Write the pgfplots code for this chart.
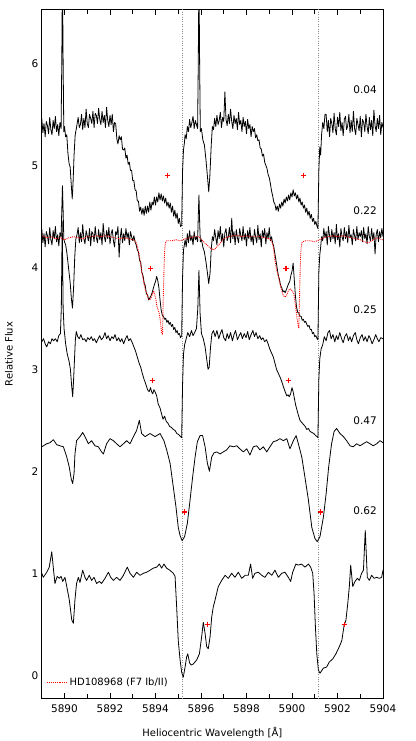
\documentclass[border=0pt]{standalone}
\usepackage{fontspec}
\setmainfont{DejaVu Sans}
\usepackage{pgfplots}
\pgfplotsset{compat=1.18}
\begin{document}
\begin{tikzpicture}
\begin{axis}[
  scale only axis, width=341.25pt, height=689.4pt,
  xmin=5889, xmax=5904, ymin=-0.23, ymax=6.53,
  xtick={5890,5892,...,5904}, ytick={0,1,...,6},
  minor x tick num=9,
  extra x ticks={5891,5893,5895,5897,5899,5901,5903},
  extra x tick labels={},
  extra x tick style={major tick length=4.5pt},
  major tick length=6pt, minor tick length=3pt,
  ytick style={draw=none},
  axis line style={line width=0.9pt},
  tick style={line width=0.6pt, black},
  /pgf/number format/assume math mode=true,
  x tick label style={/pgf/number format/1000 sep={}, font=\fontsize{10.5}{12}\selectfont, yshift=-2pt},
  y tick label style={font=\fontsize{10.5}{12}\selectfont},
  xlabel={Heliocentric Wavelength [Å]},
  ylabel={Relative Flux},
  label style={font=\fontsize{10}{12}\selectfont},
  x label style={at={(axis description cs:0.5,-0.0498)}, anchor=center},
  y label style={at={(axis description cs:-0.096,0.5)}, anchor=center},
  legend style={at={(axis description cs:0.005,0.024)}, anchor=west, draw=none, fill=none,
    font=\fontsize{10}{12}\selectfont},
  legend cell align=left,
  legend image code/.code={\draw[#1] (0pt,0pt) -- (20pt,0pt);},
  every axis plot/.append style={line join=round},
]
% vertical reference lines
\addplot[black!45, dotted, line width=0.4pt, forget plot] coordinates {(5895.17,-0.3) (5895.17,6.6)};
\addplot[black!45, dotted, line width=0.4pt, forget plot] coordinates {(5901.16,-0.3) (5901.16,6.6)};

% phase 0.04
\addplot[black, line width=0.8pt, forget plot] coordinates {
(5889.00,5.46) (5889.05,5.32) (5889.10,5.41) (5889.15,5.28) (5889.20,5.43) (5889.25,5.39) (5889.30,5.31) (5889.35,5.47) (5889.40,5.35) (5889.45,5.30)
(5889.50,5.44) (5889.55,5.36) (5889.60,5.48) (5889.65,5.33) (5889.70,5.40) (5889.75,5.29) (5889.80,5.42) (5889.85,5.36) (5889.88,6.00) (5889.91,6.90)
(5889.94,6.00) (5889.97,5.33) (5890.00,5.38) (5890.05,5.28) (5890.10,5.30) (5890.15,5.12) (5890.20,5.02) (5890.25,4.98) (5890.30,4.80) (5890.34,4.67)
(5890.38,4.85) (5890.42,5.10) (5890.47,5.30) (5890.52,5.36) (5890.60,5.47) (5890.65,5.37) (5890.70,5.40) (5890.75,5.50) (5890.80,5.35) (5890.85,5.46)
(5890.90,5.37) (5890.95,5.55) (5891.00,5.41) (5891.05,5.37) (5891.10,5.50) (5891.15,5.46) (5891.20,5.41) (5891.25,5.53) (5891.30,5.37) (5891.35,5.51)
(5891.40,5.49) (5891.45,5.41) (5891.50,5.56) (5891.55,5.45) (5891.60,5.40) (5891.65,5.53) (5891.70,5.42) (5891.75,5.49) (5891.80,5.37) (5891.85,5.57)
(5891.90,5.44) (5891.95,5.38) (5892.00,5.49) (5892.05,5.40) (5892.10,5.50) (5892.15,5.33) (5892.20,5.42) (5892.25,5.41) (5892.30,5.26) (5892.35,5.21)
(5892.40,5.29) (5892.45,5.25) (5892.50,5.28) (5892.55,5.16) (5892.60,5.15) (5892.65,5.17) (5892.70,5.07) (5892.75,5.10) (5892.80,5.01) (5892.85,5.03)
(5892.90,4.95) (5892.95,4.95) (5893.00,4.85) (5893.05,4.85) (5893.10,4.76) (5893.15,4.75) (5893.20,4.65) (5893.25,4.65) (5893.30,4.55) (5893.35,4.59)
(5893.40,4.52) (5893.45,4.58) (5893.50,4.51) (5893.55,4.60) (5893.60,4.53) (5893.65,4.60) (5893.70,4.54) (5893.75,4.64) (5893.80,4.56) (5893.85,4.64)
(5893.90,4.61) (5893.95,4.69) (5894.00,4.61) (5894.05,4.69) (5894.10,4.64) (5894.15,4.73) (5894.20,4.66) (5894.25,4.72) (5894.30,4.65) (5894.35,4.70)
(5894.40,4.63) (5894.45,4.68) (5894.50,4.60) (5894.55,4.64) (5894.60,4.58) (5894.65,4.63) (5894.70,4.54) (5894.75,4.60) (5894.80,4.50) (5894.85,4.56)
(5894.90,4.48) (5894.95,4.53) (5895.00,4.43) (5895.05,4.48) (5895.10,4.40) (5895.15,4.41) (5895.19,4.95) (5895.23,5.15) (5895.27,5.22) (5895.30,5.30)
(5895.35,5.26) (5895.40,5.38) (5895.45,5.33) (5895.50,5.45) (5895.55,5.37) (5895.60,5.42) (5895.65,5.48) (5895.70,5.36) (5895.75,5.44) (5895.80,5.40)
(5895.85,5.36) (5895.88,6.00) (5895.91,6.90) (5895.94,6.00) (5895.97,5.33) (5896.02,5.36) (5896.08,5.25) (5896.15,5.20) (5896.22,5.05) (5896.28,4.90)
(5896.34,4.74) (5896.39,4.90) (5896.45,5.20) (5896.50,5.38) (5896.55,5.35) (5896.60,5.46) (5896.65,5.38) (5896.70,5.49) (5896.75,5.40) (5896.80,5.44)
(5896.85,5.52) (5896.90,5.37) (5896.95,5.47) (5897.00,5.43) (5897.05,5.72) (5897.10,5.45) (5897.15,5.39) (5897.20,5.50) (5897.25,5.41) (5897.30,5.55)
(5897.35,5.43) (5897.40,5.36) (5897.45,5.49) (5897.50,5.41) (5897.55,5.46) (5897.60,5.35) (5897.65,5.52) (5897.70,5.40) (5897.75,5.44) (5897.80,5.33)
(5897.85,5.47) (5897.90,5.38) (5897.95,5.43) (5898.00,5.31) (5898.05,5.45) (5898.10,5.36) (5898.15,5.40) (5898.20,5.28) (5898.25,5.38) (5898.30,5.33)
(5898.35,5.36) (5898.40,5.27) (5898.45,5.30) (5898.50,5.24) (5898.55,5.25) (5898.60,5.17) (5898.65,5.16) (5898.70,5.09) (5898.75,5.11) (5898.80,5.03)
(5898.85,5.00) (5898.90,4.97) (5898.95,4.91) (5899.00,4.88) (5899.05,4.82) (5899.10,4.75) (5899.15,4.70) (5899.20,4.64) (5899.25,4.62) (5899.30,4.56)
(5899.35,4.60) (5899.40,4.55) (5899.45,4.62) (5899.50,4.58) (5899.55,4.64) (5899.60,4.60) (5899.65,4.67) (5899.70,4.63) (5899.75,4.69) (5899.80,4.65)
(5899.85,4.71) (5899.90,4.66) (5899.95,4.73) (5900.00,4.69) (5900.05,4.76) (5900.10,4.70) (5900.15,4.73) (5900.20,4.67) (5900.25,4.71) (5900.30,4.64)
(5900.35,4.68) (5900.40,4.61) (5900.45,4.64) (5900.50,4.58) (5900.55,4.61) (5900.60,4.54) (5900.65,4.58) (5900.70,4.51) (5900.75,4.55) (5900.80,4.48)
(5900.85,4.52) (5900.90,4.45) (5900.95,4.48) (5901.00,4.42) (5901.05,4.45) (5901.10,4.40) (5901.14,4.38) (5901.18,4.95) (5901.22,5.18) (5901.26,5.10)
(5901.30,5.30) (5901.35,5.42) (5901.40,5.36) (5901.45,5.50) (5901.50,5.50) (5901.55,5.33) (5901.60,5.44) (5901.65,5.28) (5901.70,5.46) (5901.75,5.41)
(5901.80,5.32) (5901.85,5.51) (5901.90,5.36) (5901.95,5.30) (5902.00,5.47) (5902.05,5.38) (5902.10,5.52) (5902.15,5.34) (5902.20,5.42) (5902.25,5.29)
(5902.30,5.45) (5902.35,5.48) (5902.40,5.35) (5902.45,5.39) (5902.50,5.50) (5902.55,5.32) (5902.60,5.44) (5902.65,5.33) (5902.70,5.53) (5902.75,5.36)
(5902.80,5.30) (5902.85,5.46) (5902.90,5.40) (5902.95,5.34) (5903.00,5.48) (5903.05,5.28) (5903.10,5.45) (5903.15,5.42) (5903.20,5.33) (5903.25,5.50)
(5903.30,5.38) (5903.35,5.31) (5903.40,5.47) (5903.45,5.35) (5903.50,5.44) (5903.55,5.29) (5903.60,5.54) (5903.65,5.39) (5903.70,5.33) (5903.75,5.46)
(5903.80,5.36) (5903.85,5.49) (5903.90,5.30) (5903.95,5.42) (5904.00,5.37)
};

% phase 0.22
\addplot[black, line width=0.8pt, forget plot] coordinates {
(5889.00,4.38) (5889.05,4.24) (5889.10,4.33) (5889.15,4.20) (5889.20,4.35) (5889.25,4.31) (5889.30,4.23) (5889.35,4.39) (5889.40,4.27) (5889.45,4.22)
(5889.50,4.36) (5889.55,4.28) (5889.60,4.40) (5889.65,4.25) (5889.70,4.32) (5889.75,4.21) (5889.80,4.34) (5889.85,4.30) (5889.88,4.55) (5889.91,4.80)
(5889.94,4.55) (5889.97,4.28) (5890.00,4.25) (5890.05,4.22) (5890.10,4.15) (5890.15,4.05) (5890.20,3.95) (5890.25,3.85) (5890.30,3.70) (5890.35,3.60)
(5890.40,3.80) (5890.45,4.10) (5890.50,4.28) (5890.55,4.32) (5890.60,4.39) (5890.65,4.24) (5890.70,4.34) (5890.75,4.25) (5890.80,4.42) (5890.85,4.28)
(5890.90,4.23) (5890.95,4.36) (5891.00,4.31) (5891.05,4.26) (5891.10,4.38) (5891.15,4.21) (5891.20,4.35) (5891.25,4.33) (5891.30,4.25) (5891.35,4.40)
(5891.40,4.29) (5891.45,4.24) (5891.50,4.37) (5891.55,4.27) (5891.60,4.34) (5891.65,4.22) (5891.70,4.43) (5891.75,4.30) (5891.80,4.25) (5891.85,4.36)
(5891.90,4.28) (5891.95,4.39) (5892.00,4.23) (5892.05,4.33) (5892.10,4.37) (5892.15,4.26) (5892.20,4.20) (5892.25,4.35) (5892.30,4.32) (5892.35,4.40)
(5892.40,4.10) (5892.45,4.29) (5892.50,4.38) (5892.55,4.24) (5892.60,4.33) (5892.65,4.26) (5892.70,4.38) (5892.75,4.29) (5892.80,4.34) (5892.85,4.22)
(5892.90,4.35) (5892.95,4.30) (5893.00,4.26) (5893.05,4.31) (5893.10,4.25) (5893.15,4.22) (5893.20,4.17) (5893.25,4.15) (5893.30,4.07) (5893.35,4.05)
(5893.40,3.95) (5893.45,3.92) (5893.50,3.85) (5893.55,3.82) (5893.60,3.74) (5893.65,3.73) (5893.70,3.68) (5893.75,3.70) (5893.80,3.72) (5893.85,3.75)
(5893.90,3.79) (5893.95,3.83) (5894.00,3.86) (5894.05,3.91) (5894.10,3.87) (5894.15,3.80) (5894.20,3.68) (5894.25,3.58) (5894.30,3.53) (5894.35,3.52)
(5894.40,3.49) (5894.45,3.50) (5894.50,3.46) (5894.55,3.48) (5894.60,3.44) (5894.65,3.46) (5894.70,3.42) (5894.75,3.44) (5894.80,3.39) (5894.85,3.41)
(5894.90,3.36) (5894.95,3.38) (5895.00,3.34) (5895.05,3.35) (5895.10,3.31) (5895.15,3.33) (5895.19,3.90) (5895.23,4.17) (5895.27,4.22) (5895.30,4.27)
(5895.35,4.20) (5895.40,4.33) (5895.45,4.24) (5895.50,4.36) (5895.55,4.26) (5895.60,4.31) (5895.65,4.22) (5895.70,4.35) (5895.75,4.27) (5895.80,4.30)
(5895.85,4.25) (5895.88,4.50) (5895.91,4.71) (5895.94,4.45) (5895.97,4.25) (5896.02,4.27) (5896.08,4.20) (5896.15,4.15) (5896.22,4.05) (5896.28,3.95)
(5896.34,3.84) (5896.40,3.95) (5896.45,4.18) (5896.50,4.30) (5896.55,4.26) (5896.60,4.37) (5896.65,4.29) (5896.70,4.22) (5896.75,4.36) (5896.80,4.28)
(5896.85,4.40) (5896.90,4.25) (5896.95,4.33) (5897.00,4.20) (5897.05,4.34) (5897.10,4.38) (5897.15,4.26) (5897.20,4.30) (5897.25,4.39) (5897.30,4.24)
(5897.35,4.48) (5897.40,4.28) (5897.45,4.35) (5897.50,4.22) (5897.55,4.37) (5897.60,4.29) (5897.65,4.24) (5897.70,4.38) (5897.75,4.31) (5897.80,4.26)
(5897.85,4.40) (5897.90,4.27) (5897.95,4.33) (5898.00,4.21) (5898.05,4.36) (5898.10,4.28) (5898.15,4.39) (5898.20,4.25) (5898.25,4.31) (5898.30,4.22)
(5898.35,4.37) (5898.40,4.30) (5898.45,4.24) (5898.50,4.41) (5898.55,4.27) (5898.60,4.33) (5898.65,4.20) (5898.70,4.36) (5898.75,4.29) (5898.80,4.38)
(5898.85,4.23) (5898.90,4.34) (5898.95,4.28) (5899.00,4.39) (5899.05,4.26) (5899.10,4.30) (5899.15,4.24) (5899.20,4.20) (5899.25,4.13) (5899.30,4.06)
(5899.35,3.99) (5899.40,3.92) (5899.45,3.88) (5899.50,3.82) (5899.55,3.80) (5899.60,3.76) (5899.65,3.77) (5899.70,3.75) (5899.75,3.78) (5899.80,3.81)
(5899.85,3.84) (5899.90,3.86) (5899.95,3.92) (5900.00,3.96) (5900.05,4.04) (5900.10,3.88) (5900.15,3.72) (5900.20,3.61) (5900.25,3.56) (5900.30,3.55)
(5900.35,3.52) (5900.40,3.52) (5900.45,3.48) (5900.50,3.49) (5900.55,3.46) (5900.60,3.47) (5900.65,3.44) (5900.70,3.42) (5900.75,3.43) (5900.80,3.39)
(5900.85,3.39) (5900.90,3.35) (5900.95,3.36) (5901.00,3.32) (5901.05,3.33) (5901.10,3.30) (5901.14,3.29) (5901.18,3.95) (5901.22,4.12) (5901.26,4.20)
(5901.30,4.30) (5901.35,4.26) (5901.40,4.38) (5901.45,4.29) (5901.50,4.35) (5901.55,4.22) (5901.60,4.40) (5901.65,4.31) (5901.70,4.25) (5901.75,4.37)
(5901.80,4.28) (5901.85,4.34) (5901.90,4.23) (5901.95,4.42) (5902.00,4.27) (5902.05,4.33) (5902.10,4.20) (5902.15,4.38) (5902.20,4.30) (5902.25,4.26)
(5902.30,4.39) (5902.35,4.28) (5902.40,4.35) (5902.45,4.24) (5902.50,4.41) (5902.55,4.29) (5902.60,4.32) (5902.65,4.22) (5902.70,4.37) (5902.75,4.31)
(5902.80,4.26) (5902.85,4.40) (5902.90,4.27) (5902.95,4.34) (5903.00,4.30) (5903.05,4.36) (5903.10,4.25) (5903.15,4.39) (5903.20,4.28) (5903.25,4.33)
(5903.30,4.23) (5903.35,4.40) (5903.40,4.30) (5903.45,4.26) (5903.50,4.38) (5903.55,4.27) (5903.60,4.34) (5903.65,4.13) (5903.70,4.32) (5903.75,4.37)
(5903.80,4.25) (5903.85,4.35) (5903.90,4.29) (5903.95,4.38) (5904.00,4.30)
};

% phase 0.25
\addplot[black, line width=0.8pt, forget plot] coordinates {
(5889.00,3.27) (5889.08,3.30) (5889.15,3.25) (5889.22,3.22) (5889.30,3.27) (5889.38,3.25) (5889.45,3.30) (5889.52,3.28) (5889.60,3.30) (5889.68,3.27)
(5889.75,3.33) (5889.82,3.35) (5889.86,3.60) (5889.90,4.45) (5889.94,3.60) (5889.98,3.40) (5890.05,3.25) (5890.12,3.15) (5890.20,3.08) (5890.26,3.00)
(5890.31,2.85) (5890.36,2.73) (5890.40,2.90) (5890.44,3.10) (5890.48,3.30) (5890.52,3.37) (5890.58,3.32) (5890.65,3.30) (5890.72,3.34) (5890.80,3.29)
(5890.88,3.30) (5890.95,3.27) (5891.02,3.31) (5891.10,3.29) (5891.18,3.32) (5891.25,3.28) (5891.32,3.30) (5891.40,3.26) (5891.48,3.30) (5891.55,3.33)
(5891.62,3.29) (5891.70,3.31) (5891.78,3.36) (5891.85,3.30) (5891.92,3.33) (5892.00,3.28) (5892.08,3.32) (5892.15,3.30) (5892.22,3.34) (5892.30,3.28)
(5892.38,3.31) (5892.45,3.27) (5892.52,3.30) (5892.60,3.25) (5892.68,3.30) (5892.75,3.33) (5892.82,3.28) (5892.90,3.30) (5892.98,3.26) (5893.05,3.22)
(5893.12,3.18) (5893.20,3.12) (5893.28,3.06) (5893.35,3.02) (5893.42,2.96) (5893.50,2.90) (5893.58,2.85) (5893.65,2.80) (5893.72,2.78) (5893.78,2.82)
(5893.83,2.78) (5893.88,2.76) (5893.93,2.80) (5893.98,2.78) (5894.05,2.74) (5894.12,2.66) (5894.20,2.62) (5894.27,2.56) (5894.33,2.51) (5894.40,2.54)
(5894.47,2.49) (5894.55,2.47) (5894.62,2.44) (5894.70,2.43) (5894.78,2.41) (5894.86,2.40) (5894.94,2.37) (5895.02,2.36) (5895.10,2.34) (5895.15,2.33)
(5895.19,2.85) (5895.23,3.15) (5895.28,3.24) (5895.35,3.30) (5895.42,3.36) (5895.50,3.32) (5895.58,3.38) (5895.65,3.33) (5895.72,3.36) (5895.80,3.40)
(5895.86,3.60) (5895.91,3.97) (5895.96,3.55) (5896.02,3.35) (5896.10,3.30) (5896.18,3.22) (5896.25,3.10) (5896.31,3.00) (5896.36,3.02) (5896.42,3.22)
(5896.48,3.35) (5896.55,3.38) (5896.62,3.32) (5896.70,3.38) (5896.78,3.30) (5896.85,3.35) (5896.92,3.39) (5897.00,3.31) (5897.08,3.28) (5897.15,3.35)
(5897.22,3.30) (5897.30,3.36) (5897.38,3.28) (5897.45,3.34) (5897.52,3.38) (5897.60,3.29) (5897.68,3.33) (5897.75,3.36) (5897.82,3.30) (5897.90,3.35)
(5897.98,3.31) (5898.05,3.37) (5898.12,3.29) (5898.20,3.34) (5898.28,3.38) (5898.35,3.32) (5898.42,3.36) (5898.50,3.30) (5898.58,3.33) (5898.65,3.29)
(5898.72,3.31) (5898.80,3.27) (5898.88,3.29) (5898.95,3.25) (5899.02,3.20) (5899.10,3.16) (5899.18,3.12) (5899.25,3.06) (5899.32,3.00) (5899.40,2.96)
(5899.48,2.92) (5899.55,2.88) (5899.62,2.83) (5899.70,2.78) (5899.77,2.74) (5899.83,2.75) (5899.88,2.73) (5899.94,2.76) (5900.00,2.82) (5900.05,2.78)
(5900.10,2.72) (5900.16,2.65) (5900.22,2.60) (5900.28,2.55) (5900.35,2.50) (5900.42,2.48) (5900.50,2.46) (5900.58,2.44) (5900.65,2.41) (5900.72,2.42)
(5900.80,2.39) (5900.88,2.38) (5900.96,2.37) (5901.04,2.35) (5901.10,2.34) (5901.14,2.33) (5901.18,2.90) (5901.22,3.10) (5901.28,3.20) (5901.35,3.24)
(5901.42,3.32) (5901.50,3.28) (5901.58,3.36) (5901.65,3.38) (5901.72,3.30) (5901.80,3.34) (5901.88,3.27) (5901.95,3.33) (5902.02,3.29) (5902.10,3.36)
(5902.18,3.30) (5902.25,3.26) (5902.32,3.32) (5902.40,3.35) (5902.48,3.28) (5902.55,3.32) (5902.62,3.27) (5902.70,3.33) (5902.78,3.36) (5902.85,3.29)
(5902.92,3.25) (5903.00,3.31) (5903.08,3.34) (5903.15,3.28) (5903.22,3.32) (5903.30,3.27) (5903.38,3.33) (5903.45,3.30) (5903.52,3.25) (5903.60,3.29)
(5903.68,3.34) (5903.75,3.30) (5903.82,3.27) (5903.90,3.31) (5904.00,3.30)
};

% phase 0.47
\addplot[black, line width=0.8pt, forget plot] coordinates {
(5889.00,2.24) (5889.22,2.27) (5889.36,2.28) (5889.51,2.31) (5889.66,2.26) (5889.80,2.25) (5889.95,2.24) (5890.10,2.14) (5890.21,2.04) (5890.30,1.92)
(5890.36,1.88) (5890.42,1.98) (5890.46,2.17) (5890.53,2.30) (5890.68,2.34) (5890.80,2.38) (5890.90,2.34) (5891.05,2.27) (5891.19,2.30) (5891.34,2.25)
(5891.49,2.24) (5891.63,2.19) (5891.71,2.17) (5891.85,2.27) (5892.00,2.32) (5892.15,2.30) (5892.29,2.27) (5892.44,2.24) (5892.59,2.27) (5892.73,2.30)
(5892.88,2.27) (5893.03,2.34) (5893.17,2.40) (5893.29,2.50) (5893.39,2.37) (5893.54,2.34) (5893.76,2.37) (5893.98,2.34) (5894.20,2.37) (5894.37,2.30)
(5894.49,2.21) (5894.64,2.08) (5894.78,1.85) (5894.90,1.65) (5895.00,1.45) (5895.08,1.37) (5895.17,1.32) (5895.28,1.36) (5895.40,1.49) (5895.52,1.72)
(5895.63,1.94) (5895.74,2.14) (5895.84,2.29) (5895.96,2.35) (5896.07,2.35) (5896.18,2.24) (5896.28,2.08) (5896.37,2.00) (5896.47,2.14) (5896.57,2.18)
(5896.69,2.19) (5896.84,2.17) (5896.98,2.19) (5897.13,2.21) (5897.27,2.25) (5897.42,2.24) (5897.57,2.25) (5897.71,2.22) (5897.86,2.19) (5898.01,2.22)
(5898.15,2.16) (5898.30,2.24) (5898.45,2.25) (5898.59,2.21) (5898.74,2.24) (5898.89,2.19) (5899.03,2.24) (5899.18,2.29) (5899.33,2.30) (5899.47,2.32)
(5899.62,2.30) (5899.77,2.32) (5899.91,2.22) (5900.06,2.30) (5900.18,2.35) (5900.28,2.27) (5900.43,2.14) (5900.57,1.94) (5900.72,1.72) (5900.87,1.45)
(5901.01,1.34) (5901.11,1.31) (5901.23,1.36) (5901.38,1.55) (5901.50,1.78) (5901.61,2.04) (5901.74,2.27) (5901.85,2.39) (5901.96,2.42) (5902.11,2.37)
(5902.26,2.34) (5902.40,2.30) (5902.55,2.25) (5902.69,2.24) (5902.84,2.27) (5902.99,2.25) (5903.13,2.27) (5903.28,2.29) (5903.43,2.27) (5903.57,2.25)
(5903.72,2.27) (5903.87,2.30) (5904.00,2.28)
};

% phase 0.62
\addplot[black, line width=0.8pt, forget plot] coordinates {
(5889.00,1.00) (5889.07,0.96) (5889.22,1.01) (5889.33,1.06) (5889.44,1.21) (5889.51,1.05) (5889.58,0.90) (5889.68,0.97) (5889.77,0.95) (5889.85,0.97)
(5889.92,0.92) (5890.02,0.96) (5890.10,0.87) (5890.21,0.74) (5890.32,0.54) (5890.39,0.51) (5890.46,0.74) (5890.53,0.90) (5890.61,0.96) (5890.68,0.91)
(5890.80,1.03) (5890.90,0.96) (5890.97,0.93) (5891.09,0.98) (5891.19,0.93) (5891.30,0.96) (5891.41,0.90) (5891.53,0.92) (5891.63,0.90) (5891.78,0.95)
(5891.93,1.01) (5892.03,0.96) (5892.15,0.93) (5892.29,0.96) (5892.44,0.93) (5892.59,0.98) (5892.76,1.06) (5892.88,1.00) (5893.03,0.96) (5893.17,1.01)
(5893.32,0.98) (5893.47,1.00) (5893.61,1.01) (5893.76,1.03) (5893.90,1.05) (5894.05,1.06) (5894.17,1.09) (5894.27,1.05) (5894.37,1.09) (5894.49,1.05)
(5894.63,1.03) (5894.78,1.00) (5894.86,0.97) (5894.93,0.67) (5895.00,0.34) (5895.08,0.15) (5895.15,0.03) (5895.22,-0.02) (5895.30,0.08) (5895.37,0.18)
(5895.42,0.21) (5895.50,0.12) (5895.57,0.10) (5895.66,0.11) (5895.81,0.15) (5895.93,0.21) (5896.03,0.38) (5896.10,0.52) (5896.18,0.41) (5896.25,0.28)
(5896.32,0.26) (5896.40,0.38) (5896.47,0.57) (5896.54,0.67) (5896.62,0.74) (5896.76,0.87) (5896.91,0.93) (5897.06,0.98) (5897.20,0.95) (5897.35,1.00)
(5897.49,0.96) (5897.64,1.01) (5897.79,0.95) (5897.94,0.98) (5898.08,0.98) (5898.18,1.09) (5898.27,0.95) (5898.37,1.00) (5898.52,1.01) (5898.67,0.98)
(5898.81,0.96) (5898.96,1.01) (5899.11,0.98) (5899.25,1.03) (5899.40,0.96) (5899.55,1.00) (5899.69,1.01) (5899.84,0.96) (5899.94,0.92) (5900.03,1.01)
(5900.17,1.09) (5900.28,1.08) (5900.42,1.09) (5900.57,1.06) (5900.72,1.09) (5900.82,1.06) (5900.91,1.00) (5900.97,0.80) (5901.03,0.47) (5901.09,0.21)
(5901.16,0.05) (5901.23,0.02) (5901.38,0.07) (5901.52,0.08) (5901.64,0.13) (5901.79,0.16) (5901.93,0.21) (5902.08,0.28) (5902.19,0.34) (5902.29,0.49)
(5902.37,0.54) (5902.45,0.70) (5902.52,0.87) (5902.58,1.08) (5902.67,0.87) (5902.77,0.92) (5902.87,0.95) (5902.96,0.93) (5903.06,1.00) (5903.14,1.03)
(5903.22,1.42) (5903.31,0.96) (5903.40,0.93) (5903.50,0.98) (5903.61,0.95) (5903.72,0.96) (5903.84,0.95) (5903.94,0.96) (5904.00,1.03)
};

% template star
\addplot[red, densely dotted, line width=0.9pt] coordinates {
(5889.00,4.31) (5889.20,4.29) (5889.40,4.30) (5889.60,4.28) (5889.80,4.29) (5890.00,4.27) (5890.20,4.29) (5890.40,4.30) (5890.60,4.29) (5890.80,4.28)
(5891.00,4.30) (5891.20,4.30) (5891.40,4.31) (5891.60,4.30) (5891.80,4.31) (5892.00,4.30) (5892.20,4.29) (5892.40,4.28) (5892.60,4.29) (5892.80,4.28)
(5893.00,4.27) (5893.10,4.26) (5893.17,4.23) (5893.24,4.17) (5893.32,4.07) (5893.40,3.95) (5893.47,3.87) (5893.55,3.78) (5893.62,3.74) (5893.69,3.69)
(5893.76,3.68) (5893.82,3.71) (5893.87,3.74) (5893.92,3.77) (5893.97,3.73) (5894.02,3.68) (5894.06,3.62) (5894.12,3.58) (5894.16,3.55) (5894.20,3.50)
(5894.24,3.42) (5894.27,3.36) (5894.31,3.34) (5894.34,3.70) (5894.37,3.95) (5894.40,4.15) (5894.43,4.24) (5894.50,4.26) (5894.70,4.26) (5894.90,4.27)
(5895.10,4.26) (5895.30,4.28) (5895.50,4.29) (5895.70,4.30) (5895.90,4.30) (5896.00,4.28) (5896.20,4.23) (5896.40,4.19) (5896.55,4.17) (5896.70,4.20)
(5896.85,4.24) (5897.00,4.28) (5897.20,4.30) (5897.40,4.31) (5897.60,4.31) (5897.80,4.30) (5898.00,4.31) (5898.20,4.30) (5898.40,4.30) (5898.60,4.30)
(5898.80,4.29) (5899.00,4.28) (5899.10,4.26) (5899.18,4.20) (5899.25,4.07) (5899.33,3.97) (5899.40,3.91) (5899.47,3.84) (5899.55,3.77) (5899.62,3.72)
(5899.70,3.71) (5899.77,3.73) (5899.84,3.77) (5899.91,3.79) (5899.97,3.78) (5900.03,3.76) (5900.08,3.74) (5900.13,3.66) (5900.18,3.58) (5900.22,3.50)
(5900.26,3.45) (5900.30,3.40) (5900.34,3.80) (5900.37,4.05) (5900.40,4.20) (5900.45,4.25) (5900.60,4.26) (5900.80,4.26) (5901.00,4.25) (5901.20,4.27)
(5901.40,4.29) (5901.60,4.30) (5901.80,4.31) (5902.00,4.30) (5902.20,4.31) (5902.40,4.30) (5902.60,4.29) (5902.80,4.28) (5903.00,4.27) (5903.20,4.25)
(5903.35,4.24) (5903.50,4.26) (5903.70,4.29) (5903.85,4.28) (5904.00,4.27)
};
\addlegendentry{HD108968 (F7 Ib/II)}

% markers
\addplot[only marks, mark=+, red, mark options={line width=1.2pt}, mark size=2.6pt, forget plot] coordinates {
(5894.53,4.90) (5900.50,4.90)
(5893.79,3.99) (5899.74,3.99)
(5893.88,2.89) (5899.85,2.89)
(5895.27,1.60) (5901.24,1.60)
(5896.29,0.50) (5902.29,0.50)
};

% phase labels
\node[anchor=east, font=\fontsize{10.5}{12}\selectfont] at (axis cs:5903.88,5.74) {0.04};
\node[anchor=east, font=\fontsize{10.5}{12}\selectfont] at (axis cs:5903.88,4.56) {0.22};
\node[anchor=east, font=\fontsize{10.5}{12}\selectfont] at (axis cs:5903.88,3.58) {0.25};
\node[anchor=east, font=\fontsize{10.5}{12}\selectfont] at (axis cs:5903.88,2.50) {0.47};
\node[anchor=east, font=\fontsize{10.5}{12}\selectfont] at (axis cs:5903.88,1.61) {0.62};
\end{axis}
\pgfresetboundingbox
\path[use as bounding box] ([shift={(-41.75pt,-42.3pt)}]current axis.south west) rectangle ([shift={(32pt,9.3pt)}]current axis.north east);
\end{tikzpicture}
\end{document}
